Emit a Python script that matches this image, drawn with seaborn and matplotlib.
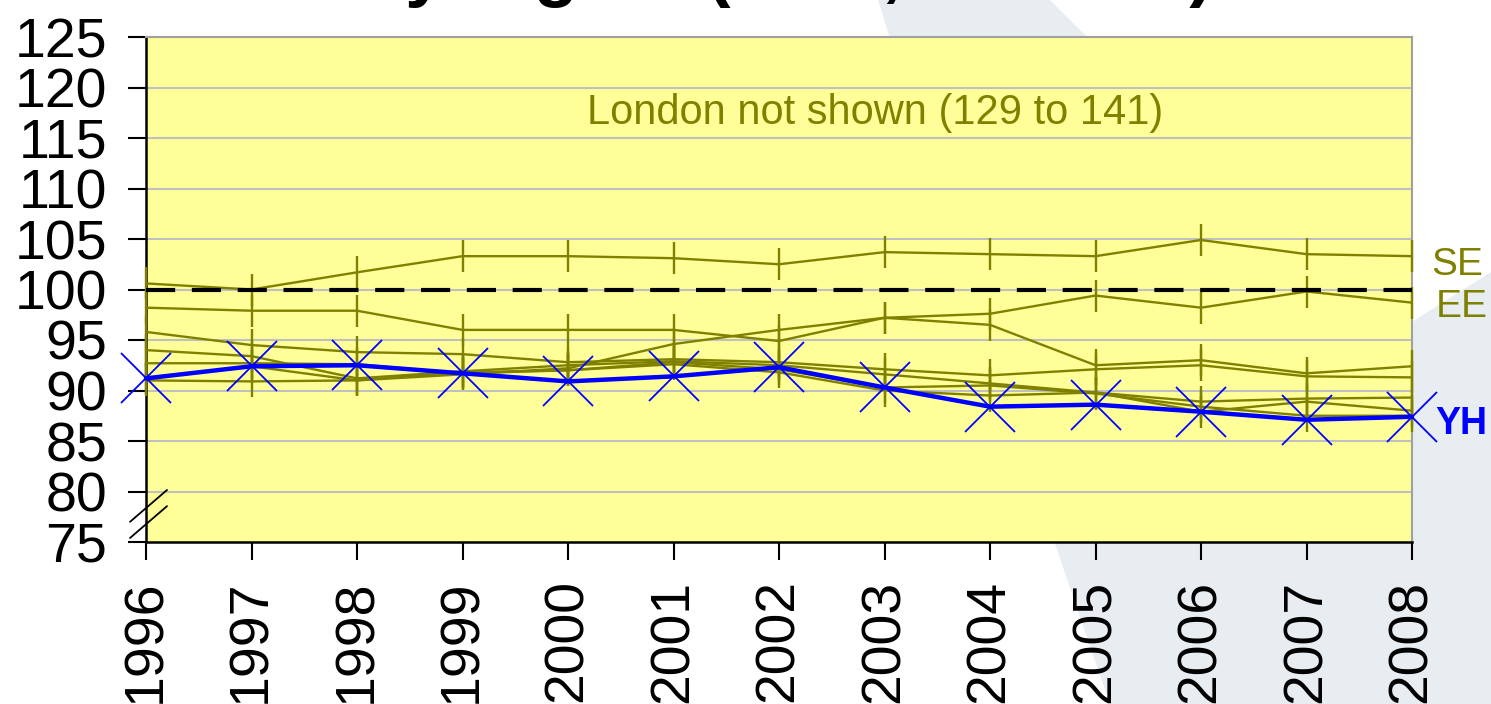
import matplotlib
matplotlib.use("Agg")
import matplotlib.pyplot as plt
import seaborn as sns
import pandas as pd
from matplotlib.patches import PathPatch
from matplotlib.path import Path

# ---------------- data ----------------
years = list(range(1996, 2009))
SE = [100.6, 100.0, 101.7, 103.3, 103.3, 103.1, 102.5, 103.7, 103.5, 103.3, 104.9, 103.5, 103.3]
EE = [98.2, 97.9, 97.9, 96.0, 96.0, 96.0, 94.9, 97.2, 97.6, 99.4, 98.2, 99.8, 98.7]
SW = [91.0, 90.9, 91.0, 91.6, 92.2, 94.6, 96.0, 97.2, 96.5, 92.5, 93.0, 91.7, 92.4]
EM = [95.8, 94.5, 93.8, 93.6, 92.8, 93.1, 92.8, 92.1, 91.5, 92.1, 92.5, 91.4, 91.3]
NW = [94.0, 93.4, 91.2, 91.9, 92.5, 92.9, 92.5, 91.6, 90.7, 89.8, 88.9, 89.2, 89.3]
WM = [92.7, 92.7, 92.6, 91.7, 92.0, 92.8, 92.1, 90.3, 90.5, 89.7, 88.4, 87.5, 87.5]
NE = [91.2, 92.4, 91.0, 91.8, 92.0, 92.6, 91.8, 90.0, 89.5, 89.8, 87.9, 88.9, 88.0]
YH = [91.2, 92.4, 92.5, 91.7, 90.9, 91.4, 92.3, 90.3, 88.4, 88.6, 87.9, 87.1, 87.4]
uk_level = 100
yticks = [75, 80, 85, 90, 95, 100, 105, 110, 115, 120, 125]
note = "London not shown (129 to 141)"
title = "by region (GVA, UK=100)"

olive_series = {"SE": SE, "EE": EE, "SW": SW, "EM": EM, "NW": NW, "WM": WM, "NE": NE}

# ---------------- style ----------------
sns.set_style("white")
plt.rcParams["font.family"] = ["Liberation Sans", "DejaVu Sans"]

OLIVE = "#808000"
BLUE = "#0000ff"
W, H = 1491, 704

fig = plt.figure(figsize=(W / 100, H / 100), dpi=100)
fig.patch.set_facecolor("white")

# background swoosh (template decoration)
def fp(x, y):
    return (x / W, 1 - y / H)

verts = [fp(878, 0), fp(1050, 0), fp(1300, 250), fp(1412, 322),
         fp(1491, 272), fp(1491, 704), fp(1110, 704), fp(990, 360), fp(878, 0)]
codes = [Path.MOVETO, Path.LINETO, Path.CURVE3, Path.CURVE3,
         Path.LINETO, Path.LINETO, Path.LINETO, Path.CURVE3, Path.CURVE3]
fig.patches.append(PathPatch(Path(verts, codes), transform=fig.transFigure,
                             facecolor="#e8edf2", edgecolor="none", zorder=0))

ax = fig.add_axes([146 / W, 1 - 542 / H, (1412 - 146) / W, (542 - 37) / H])
ax.set_facecolor("#ffff99")
ax.set_zorder(1)

# grid
for v in yticks[1:]:
    ax.axhline(v, color="#c0c0c0", lw=1.5, zorder=1)

# olive regions
for name, vals in olive_series.items():
    df = pd.DataFrame({"year": years, "value": vals})
    sns.lineplot(data=df, x="year", y="value", ax=ax, color=OLIVE, lw=1.7,
                 marker="|", markersize=23, markeredgewidth=1.7,
                 markeredgecolor=OLIVE, clip_on=False, zorder=3)

# UK = 100 reference
ax.axhline(uk_level, color="black", lw=3, dashes=(7, 4), zorder=4)

# YH
dfy = pd.DataFrame({"year": years, "value": YH})
sns.lineplot(data=dfy, x="year", y="value", ax=ax, color=BLUE, lw=3.2,
             marker="x", markersize=36, markeredgewidth=1.3,
             markeredgecolor=BLUE, clip_on=False, zorder=5)

ax.set_xlim(1996, 2008)
ax.set_ylim(75, 125)
ax.set_xticks(years)
ax.set_xticklabels([str(y) for y in years], rotation=90)
ax.set_yticks(yticks)
ax.set_xlabel("")
ax.set_ylabel("")
ax.tick_params(axis="both", labelsize=40, colors="black", direction="out",
               length=13, width=1.5)
ax.tick_params(axis="y", pad=15, left=True)
ax.tick_params(axis="x", pad=14, bottom=True)

for s in ["left", "bottom"]:
    ax.spines[s].set_color("black")
    ax.spines[s].set_linewidth(1.8)
for s in ["top", "right"]:
    ax.spines[s].set_color("#a0a0a0")
    ax.spines[s].set_linewidth(1.5)

# axis break marks
for y0 in (0.008, 0.040):
    ax.plot([-0.0126, 0.0166], [y0, y0 + 0.063], transform=ax.transAxes,
            color="black", lw=1.3, clip_on=False, zorder=6)

# note
ax.text(0.576, 0.85, note, transform=ax.transAxes, ha="center", va="center",
        fontsize=30, color=OLIVE)

# end labels
ax.annotate("SE", xy=(years[-1], SE[-1]), xytext=(14, -6), textcoords="offset points",
            ha="left", va="center", fontsize=28, color=OLIVE, annotation_clip=False)
ax.annotate("EE", xy=(years[-1], EE[-1]), xytext=(17, -3), textcoords="offset points",
            ha="left", va="center", fontsize=28, color=OLIVE, annotation_clip=False)
ax.annotate("YH", xy=(years[-1], YH[-1]), xytext=(17, -5), textcoords="offset points",
            ha="left", va="center", fontsize=27, color=BLUE, fontweight="bold",
            annotation_clip=False)

# title (mostly cropped above the canvas, as in the reference)
fig.text(1213 / W, 1 + 7 / H, title, ha="right", va="baseline",
         fontsize=52, fontweight="bold", color="black")

fig.savefig("out.png", dpi=100, facecolor="white")
